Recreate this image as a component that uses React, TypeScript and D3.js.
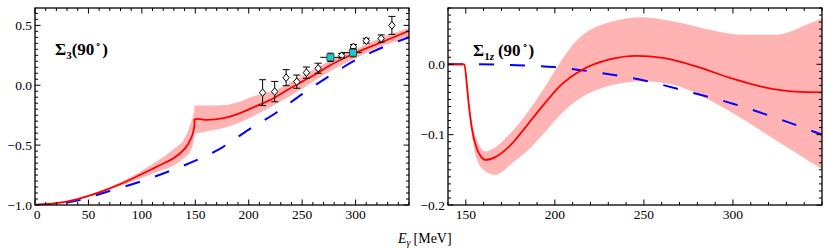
import React from 'react';
import * as d3 from 'd3';

// ---------- Left panel: Sigma_3(90°) ----------
// red (central) curve, split at the cusp (E = 149.3 MeV)
const leftRedA: [number, number][] = [
  [0, -1.0], [20, -0.985], [40, -0.95], [60, -0.895], [80, -0.825], [98, -0.75],
  [114, -0.68], [122, -0.645], [129.6, -0.61], [139, -0.54], [145.3, -0.456],
  [148.6, -0.37], [149.3, -0.33],
];
const leftRedB: [number, number][] = [
  [149.3, -0.285], [151.5, -0.28], [160.9, -0.289], [176.5, -0.275], [192, -0.233],
  [201.5, -0.195], [225, -0.1], [232.7, -0.058], [250, 0.03], [264, 0.1], [275, 0.16],
  [295, 0.25], [326, 0.365], [350, 0.455],
];
// band: [E, low, high]
const leftBandA: [number, number, number][] = [
  [0, -1.0, -0.998], [20, -0.99, -0.98], [40, -0.957, -0.943], [60, -0.905, -0.885],
  [80, -0.84, -0.81], [98, -0.78, -0.725], [114, -0.725, -0.635], [129.6, -0.67, -0.535],
  [139, -0.61, -0.455], [145.3, -0.555, -0.33], [148.6, -0.46, -0.22], [149.3, -0.42, -0.17],
];
const leftBandB: [number, number, number][] = [
  [149.3, -0.4, -0.17], [151.5, -0.4, -0.17], [160.9, -0.385, -0.17], [176.5, -0.358, -0.165],
  [192, -0.31, -0.135], [201.5, -0.27, -0.1], [225, -0.16, -0.04], [250, -0.03, 0.08],
  [275, 0.11, 0.2], [300, 0.225, 0.3], [325, 0.33, 0.4], [350, 0.395, 0.475],
];
const leftBlue: [number, number][] = [
  [0, -1.0], [25, -0.985], [50, -0.94], [60, -0.91], [75, -0.87], [100, -0.8], [125, -0.72],
  [150, -0.63], [175, -0.52], [200, -0.37], [225, -0.234], [250, -0.074], [275, 0.075],
  [300, 0.21], [325, 0.315], [350, 0.4],
];
// open diamonds: E, value, error
const diamondE = [213, 224.3, 235, 245, 254, 265, 287, 298, 310, 324, 334];
const diamondV = [-0.062, -0.053, 0.063, 0.03, 0.105, 0.142, 0.247, 0.32, 0.372, 0.39, 0.5];
const diamondErr = [0.108, 0.085, 0.067, 0.055, 0.047, 0.042, 0.02, 0.02, 0.02, 0.03, 0.075];
// cyan squares: E, value, error, E range
const squareE = [276.5, 297.7];
const squareV = [0.233, 0.272];
const squareErr = [0.035, 0.035];
const squareELo = [267, 287];
const squareEHi = [287.5, 306];

// ---------- Right panel: Sigma_1z(90°) ----------
const rightRed: [number, number][] = [
  [140, 0], [149.2, 0], [150.5, -0.027], [151.5, -0.053], [153.4, -0.091], [156.2, -0.12],
  [158.5, -0.131], [161, -0.136], [166.5, -0.132], [175.8, -0.113], [180.5, -0.099],
  [193.5, -0.058], [202.8, -0.031], [215.9, -0.007], [230.8, 0.007], [245.8, 0.012],
  [260.7, 0.009], [279.3, -0.003], [298, -0.019], [316.6, -0.032], [335.3, -0.039], [350, -0.04],
];
const rightBand: [number, number, number][] = [
  [140, -0.0005, 0.0005], [149.2, -0.0005, 0.0005], [150.5, -0.032, -0.022], [151.5, -0.06, -0.045],
  [153.4, -0.1, -0.082], [156.2, -0.135, -0.107], [161, -0.152, -0.124], [166.5, -0.157, -0.118],
  [175.8, -0.141, -0.096], [185, -0.122, -0.067], [193.5, -0.099, -0.036], [203, -0.072, 0.003],
  [212, -0.052, 0.033], [231, -0.03, 0.06], [249.5, -0.024, 0.067],
  [268, -0.03, 0.06], [287, -0.051, 0.049], [305, -0.077, 0.042], [324, -0.108, 0.042],
  [343, -0.138, 0.058], [350, -0.149, 0.065],
];
const rightBlue: [number, number][] = [
  [140, 0], [150, 0], [175, -0.001], [200, -0.004], [225, -0.012], [250, -0.023],
  [275, -0.039], [300, -0.056], [325, -0.077], [350, -0.1],
];

// ticks
const leftXMajor = [0, 50, 100, 150, 200, 250, 300];
const leftYMajor = [-1.0, -0.5, 0.0, 0.5];
const rightXMajor = [150, 200, 250, 300];
const rightYMajor = [-0.2, -0.1, 0.0];

const FONT = '"Liberation Serif", "Times New Roman", serif';
const RED = '#ff0000';
const PINK = '#ffb3b3';
const BLUE = '#0000ff';

type Ax = {
  px: [number, number];
  py: [number, number];
  xd: [number, number];
  yd: [number, number];
  xMajor: number[];
  xMinor: number[];
  yMajor: number[];
  yMinor: number[];
};

function Frame({ a, x, y, xLabels }: { a: Ax; x: d3.ScaleLinear<number, number>; y: d3.ScaleLinear<number, number>; xLabels: number[] }) {
  const [L, R] = a.px;
  const [T, B] = a.py;
  const maj = 5.5, mnr = 3;
  const els: React.ReactNode[] = [];
  const inX = (v: number) => v >= a.xd[0] - 1e-9 && v <= a.xd[1] + 1e-9;
  const inY = (v: number) => v >= a.yd[0] - 1e-9 && v <= a.yd[1] + 1e-9;
  a.xMinor.filter(inX).forEach((v, i) => {
    const len = a.xMajor.some((m) => Math.abs(m - v) < 1e-6) ? maj : mnr;
    const xx = x(v);
    els.push(<line key={'xb' + i} x1={xx} x2={xx} y1={B} y2={B - len} />);
    els.push(<line key={'xt' + i} x1={xx} x2={xx} y1={T} y2={T + len} />);
  });
  a.yMinor.filter(inY).forEach((v, i) => {
    const len = a.yMajor.some((m) => Math.abs(m - v) < 1e-6) ? maj : mnr;
    const yy = y(v);
    els.push(<line key={'yl' + i} x1={L} x2={L + len} y1={yy} y2={yy} />);
    els.push(<line key={'yr' + i} x1={R} x2={R - len} y1={yy} y2={yy} />);
  });
  const fmt = d3.format('.1f');
  return (
    <g>
      <g stroke="#000" strokeWidth={1}>{els}</g>
      <rect x={L} y={T} width={R - L} height={B - T} fill="none" stroke="#000" strokeWidth={1.3} />
      <g fontFamily={FONT} fontSize={13.5} fill="#000">
        {xLabels.map((v) => (
          <text key={'xl' + v} x={x(v) + (v === 0 ? 2 : 0)} y={218.5} textAnchor="middle">{v}</text>
        ))}
        {a.yMajor.map((v) => (
          <text key={'yl' + v} x={L - 3} y={y(v)} dy="0.35em" textAnchor="end">{fmt(v)}</text>
        ))}
      </g>
    </g>
  );
}

export default function App() {
  const leftA: Ax = {
    px: [35, 409], py: [8, 205], xd: [0, 350], yd: [-1, 0.645],
    xMajor: leftXMajor, xMinor: d3.range(0, 351, 10),
    yMajor: leftYMajor, yMinor: d3.range(-1, 0.66, 0.05).map((v) => Math.round(v * 100) / 100),
  };
  const rightA: Ax = {
    px: [448, 822], py: [8, 205], xd: [140, 350], yd: [-0.2, 0.08],
    xMajor: rightXMajor, xMinor: d3.range(140, 351, 10),
    yMajor: rightYMajor, yMinor: d3.range(-0.2, 0.081, 0.01).map((v) => Math.round(v * 100) / 100),
  };
  const xL = d3.scaleLinear().domain(leftA.xd).range(leftA.px);
  const yL = d3.scaleLinear().domain(leftA.yd).range([leftA.py[1], leftA.py[0]]);
  const xR = d3.scaleLinear().domain(rightA.xd).range(rightA.px);
  const yR = d3.scaleLinear().domain(rightA.yd).range([rightA.py[1], rightA.py[0]]);

  const lineL = d3.line<[number, number]>().x((d) => xL(d[0])).y((d) => yL(d[1])).curve(d3.curveMonotoneX);
  const areaL = d3.area<[number, number, number]>().x((d) => xL(d[0])).y0((d) => yL(d[1])).y1((d) => yL(d[2])).curve(d3.curveMonotoneX);
  const lineR = d3.line<[number, number]>().x((d) => xR(d[0])).y((d) => yR(d[1])).curve(d3.curveMonotoneX);
  const areaR = d3.area<[number, number, number]>().x((d) => xR(d[0])).y0((d) => yR(d[1])).y1((d) => yR(d[2])).curve(d3.curveMonotoneX);

  const redLeftPath = (lineL(leftRedA) || '') + (lineL(leftRedB) || '').replace(/^M/, 'L');

  return (
    <svg width={830} height={249} style={{ position: 'absolute', left: 0, top: 0, background: '#fff' }}>
      <defs>
        <clipPath id="clipL"><rect x={35} y={8} width={374} height={197} /></clipPath>
        <clipPath id="clipR"><rect x={448} y={8} width={374} height={197} /></clipPath>
      </defs>

      {/* Left panel */}
      <g clipPath="url(#clipL)">
        <path d={areaL(leftBandA) || ''} fill={PINK} />
        <path d={areaL(leftBandB) || ''} fill={PINK} />
        <path d={lineL(leftBlue) || ''} fill="none" stroke={BLUE} strokeWidth={2} strokeDasharray="15,16" />
        <path d={redLeftPath} fill="none" stroke={RED} strokeWidth={1.8} />
        <g stroke="#000" strokeWidth={1}>
          {diamondE.map((e, i) => {
            const cx = xL(e), cy = yL(diamondV[i]);
            const t = yL(diamondV[i] + diamondErr[i]), b = yL(diamondV[i] - diamondErr[i]);
            return (
              <g key={'d' + i}>
                <line x1={cx} x2={cx} y1={t} y2={b} />
                <line x1={cx - 3.5} x2={cx + 3.5} y1={t} y2={t} />
                <line x1={cx - 3.5} x2={cx + 3.5} y1={b} y2={b} />
                <path d={`M${cx},${cy - 3.8}L${cx + 3.2},${cy}L${cx},${cy + 3.8}L${cx - 3.2},${cy}Z`} fill="#fff" />
              </g>
            );
          })}
          {squareE.map((e, i) => {
            const cx = xL(e), cy = yL(squareV[i]);
            const t = yL(squareV[i] + squareErr[i]), b = yL(squareV[i] - squareErr[i]);
            return (
              <g key={'s' + i}>
                <line x1={xL(squareELo[i])} x2={xL(squareEHi[i])} y1={cy} y2={cy} />
                <line x1={cx} x2={cx} y1={t} y2={b} />
                <line x1={cx - 3} x2={cx + 3} y1={t} y2={t} />
                <line x1={cx - 3} x2={cx + 3} y1={b} y2={b} />
                <rect x={cx - 3.5} y={cy - 3.5} width={7} height={7} fill="#1ccccc" stroke="#333" strokeWidth={0.8} />
              </g>
            );
          })}
        </g>
      </g>
      <Frame a={leftA} x={xL} y={yL} xLabels={leftXMajor} />
      <text x={55} y={55} fontFamily={FONT} fontSize={17} fontWeight="bold" fill="#000">
        Σ<tspan fontSize={11} dy={4}>3</tspan><tspan dy={-4}>(90</tspan>
        <tspan fontSize={10} fontWeight="normal" dx={1} dy={-8}>∘</tspan>
        <tspan dx={1} dy={8}>)</tspan>
      </text>

      {/* Right panel */}
      <g clipPath="url(#clipR)">
        <path d={areaR(rightBand) || ''} fill={PINK} />
        <path d={lineR(rightBlue) || ''} fill="none" stroke={BLUE} strokeWidth={2} strokeDasharray="15,16" />
        <path d={lineR(rightRed) || ''} fill="none" stroke={RED} strokeWidth={1.8} />
      </g>
      <Frame a={rightA} x={xR} y={yR} xLabels={rightXMajor} />
      <text x={473} y={56} fontFamily={FONT} fontSize={17} fontWeight="bold" fill="#000">
        Σ<tspan fontSize={11} dy={4}>1</tspan><tspan fontSize={11} fontStyle="italic" dy={0}>z</tspan>
        <tspan dx={4} dy={-4}>(90</tspan>
        <tspan fontSize={10} fontWeight="normal" dx={1} dy={-8}>∘</tspan>
        <tspan dx={1} dy={8}>)</tspan>
      </text>

      {/* x-axis title */}
      <text x={398} y={243} fontFamily={FONT} fontSize={14} fill="#000">
        <tspan fontStyle="italic">E</tspan><tspan fontStyle="italic" fontSize={10} dy={3}>γ</tspan>
        <tspan dy={-3} dx={3}>[MeV]</tspan>
      </text>
    </svg>
  );
}
